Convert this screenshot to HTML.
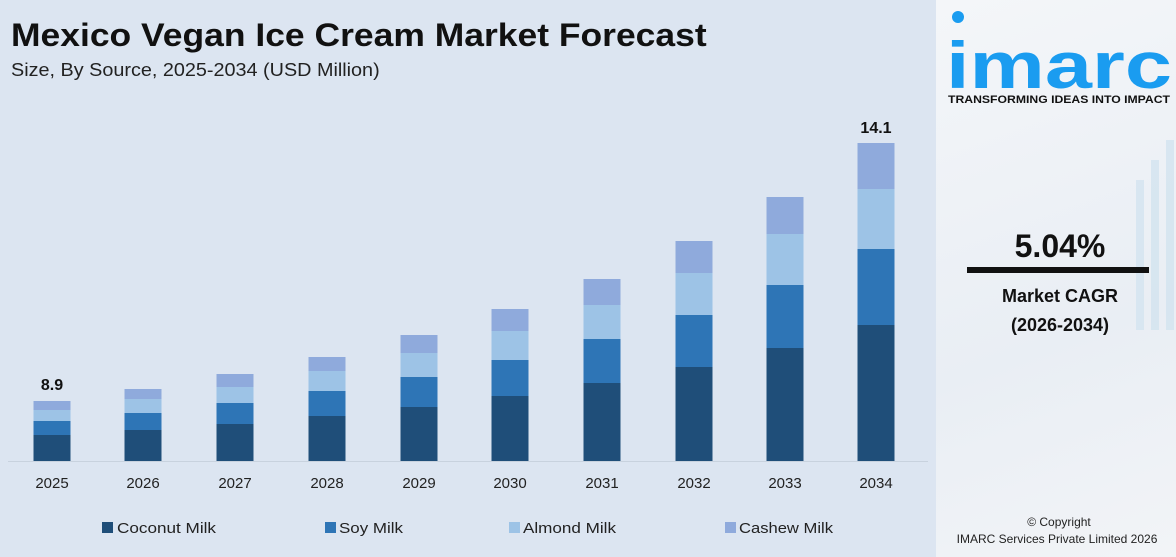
<!DOCTYPE html>
<html><head><meta charset="utf-8"><style>
body{margin:0;width:1176px;height:557px;overflow:hidden;background:#dce5f1;font-family:"Liberation Sans",sans-serif;position:relative}
.t{position:absolute;white-space:nowrap;transform-origin:0 0}
</style></head><body>
<div class="t" style="left:11px;top:17px;font-size:32px;font-weight:bold;color:#111;transform:scaleX(1.108)">Mexico Vegan Ice Cream Market Forecast</div>
<div class="t" style="left:11px;top:60px;font-size:18px;color:#222;transform:scaleX(1.10)">Size, By Source, 2025-2034 (USD Million)</div>
<svg width="936" height="557" style="position:absolute;left:0;top:0">
<line x1="8" y1="461.5" x2="928" y2="461.5" stroke="#c8d2de" stroke-width="1"/>
<g id="bars"></g>
<text x="52" y="390" font-size="16" font-weight="bold" text-anchor="middle" fill="#111">8.9</text>
<text x="876" y="133" font-size="16" font-weight="bold" text-anchor="middle" fill="#111">14.1</text>
<g font-size="15" fill="#222" text-anchor="middle">
<text x="52" y="488">2025</text><text x="143" y="488">2026</text><text x="235" y="488">2027</text><text x="327" y="488">2028</text><text x="419" y="488">2029</text><text x="510" y="488">2030</text><text x="602" y="488">2031</text><text x="694" y="488">2032</text><text x="785" y="488">2033</text><text x="876" y="488">2034</text>
</g>
<g font-size="15" fill="#222">
<rect x="102" y="522" width="11" height="11" fill="#1f4e79"/><text x="117" y="533" textLength="99" lengthAdjust="spacingAndGlyphs">Coconut Milk</text>
<rect x="325" y="522" width="11" height="11" fill="#2e75b6"/><text x="339" y="533" textLength="64" lengthAdjust="spacingAndGlyphs">Soy Milk</text>
<rect x="509" y="522" width="11" height="11" fill="#9dc3e6"/><text x="523" y="533" textLength="93" lengthAdjust="spacingAndGlyphs">Almond Milk</text>
<rect x="725" y="522" width="11" height="11" fill="#8faadc"/><text x="739" y="533" textLength="94" lengthAdjust="spacingAndGlyphs">Cashew Milk</text>
</g>
</svg>
<div style="position:absolute;left:936px;top:0;width:240px;height:557px;background:linear-gradient(160deg,#f4f6f9,#e9eef4 60%,#f2f4f7)">
<svg width="240" height="557" style="position:absolute;left:0;top:0">
<g fill="#d3e4f0" opacity="0.8">
<rect x="200" y="180" width="8" height="150"/><rect x="215" y="160" width="8" height="170"/><rect x="230" y="140" width="8" height="190"/>
</g>
<circle cx="22" cy="17" r="6" fill="#1a9cf0"/>
<text x="10" y="88" font-size="66" font-weight="bold" fill="#1a9cf0" textLength="226" lengthAdjust="spacingAndGlyphs">imarc</text>
<text x="123" y="103" font-size="11" font-weight="bold" fill="#111" text-anchor="middle" textLength="222" lengthAdjust="spacingAndGlyphs">TRANSFORMING IDEAS INTO IMPACT</text>
<text x="124" y="257" font-size="32" font-weight="bold" fill="#111" text-anchor="middle">5.04%</text>
<rect x="31" y="267" width="182" height="6" fill="#111"/>
<text x="124" y="302" font-size="18" font-weight="bold" fill="#111" text-anchor="middle">Market CAGR</text>
<text x="124" y="331" font-size="18" font-weight="bold" fill="#111" text-anchor="middle">(2026-2034)</text>
<text x="123" y="526" font-size="12" fill="#222" text-anchor="middle">© Copyright</text>
<text x="121" y="543" font-size="12" fill="#222" text-anchor="middle">IMARC Services Private Limited 2026</text>
</svg></div>
<script>
var d=[[52,401,410,421,435],[143,389,399,413,430],[235,374,387,403,424],[327,357,371,391,416],[419,335,353,377,407],[510,309,331,360,396],[602,279,305,339,383],[694,241,273,315,367],[785,197,234,285,348],[876,143,189,249,325]];
var c=["#8faadc","#9dc3e6","#2e75b6","#1f4e79"],s="";
d.forEach(function(b){var y=[b[1],b[2],b[3],b[4],461];for(var i=0;i<4;i++)s+='<rect x="'+(b[0]-18.5)+'" y="'+y[i]+'" width="37" height="'+(y[i+1]-y[i])+'" fill="'+c[i]+'"/>';});
document.getElementById("bars").innerHTML=s;
</script>
</body></html>
